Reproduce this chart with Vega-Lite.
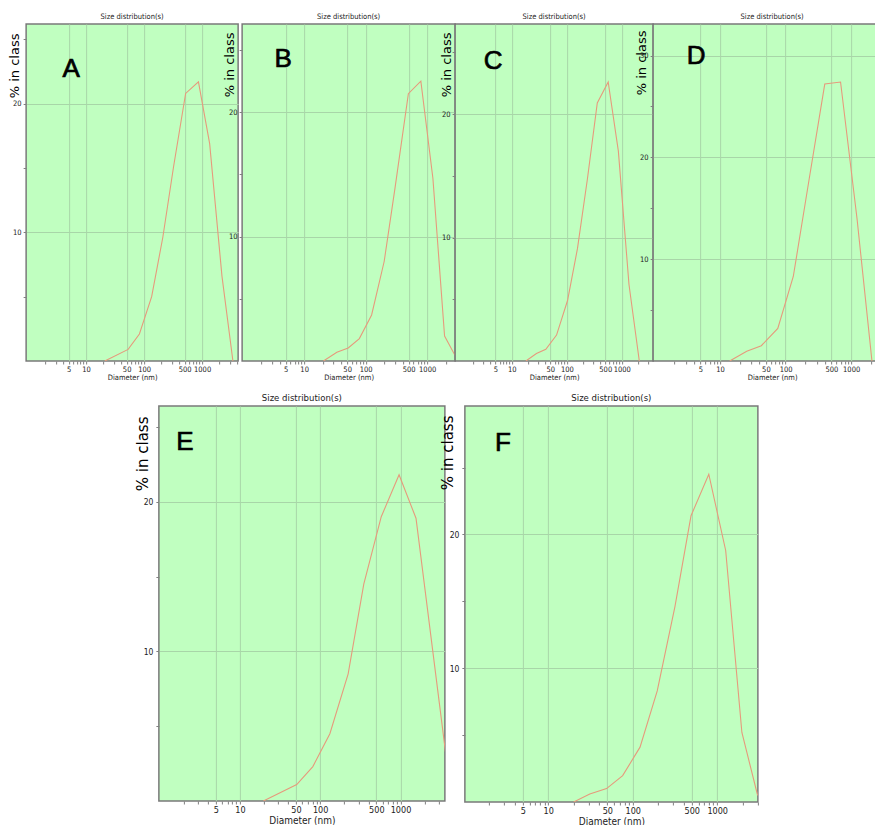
{
  "$schema": "https://vega.github.io/schema/vega-lite/v6.json",
  "autosize": {"type": "none"},
  "padding": {"left": 26, "top": 24, "right": 849, "bottom": 801},
  "background": "white",
  "datasets": {
    "dls": [
      {"panel": "A", "d": 21, "p": 0}, {"panel": "A", "d": 53, "p": 0.9}, {"panel": "A", "d": 83, "p": 2.1}, {"panel": "A", "d": 135, "p": 5.0}, {"panel": "A", "d": 210, "p": 9.6}, {"panel": "A", "d": 322, "p": 15.1}, {"panel": "A", "d": 520, "p": 20.8}, {"panel": "A", "d": 865, "p": 21.7}, {"panel": "A", "d": 1350, "p": 16.9}, {"panel": "A", "d": 2200, "p": 6.6}, {"panel": "A", "d": 3400, "p": 0},
      {"panel": "B", "d": 20.6, "p": 0}, {"panel": "B", "d": 34, "p": 0.7}, {"panel": "B", "d": 52, "p": 1.05}, {"panel": "B", "d": 79, "p": 1.8}, {"panel": "B", "d": 125, "p": 3.7}, {"panel": "B", "d": 200, "p": 8.0}, {"panel": "B", "d": 300, "p": 13.9}, {"panel": "B", "d": 495, "p": 21.5}, {"panel": "B", "d": 790, "p": 22.5}, {"panel": "B", "d": 1240, "p": 14.7}, {"panel": "B", "d": 1920, "p": 2.0}, {"panel": "B", "d": 2800, "p": 0.5}, {"panel": "B", "d": 3600, "p": 0},
      {"panel": "C", "d": 18, "p": 0}, {"panel": "C", "d": 28, "p": 0.6}, {"panel": "C", "d": 41.5, "p": 0.95}, {"panel": "C", "d": 65, "p": 2.1}, {"panel": "C", "d": 103, "p": 4.9}, {"panel": "C", "d": 156, "p": 9.1}, {"panel": "C", "d": 236, "p": 14.7}, {"panel": "C", "d": 358, "p": 20.9}, {"panel": "C", "d": 565, "p": 22.6}, {"panel": "C", "d": 865, "p": 17.0}, {"panel": "C", "d": 1350, "p": 6.2}, {"panel": "C", "d": 2080, "p": 0},
      {"panel": "D", "d": 14, "p": 0}, {"panel": "D", "d": 25.5, "p": 0.95}, {"panel": "D", "d": 42.6, "p": 1.5}, {"panel": "D", "d": 76, "p": 3.2}, {"panel": "D", "d": 131, "p": 8.3}, {"panel": "D", "d": 228, "p": 17.8}, {"panel": "D", "d": 396, "p": 27.2}, {"panel": "D", "d": 690, "p": 27.4}, {"panel": "D", "d": 1230, "p": 14.0}, {"panel": "D", "d": 2080, "p": 0},
      {"panel": "E", "d": 19.6, "p": 0}, {"panel": "E", "d": 51, "p": 1.1}, {"panel": "E", "d": 81, "p": 2.3}, {"panel": "E", "d": 132, "p": 4.5}, {"panel": "E", "d": 223, "p": 8.5}, {"panel": "E", "d": 349, "p": 14.5}, {"panel": "E", "d": 576, "p": 19.0}, {"panel": "E", "d": 960, "p": 21.8}, {"panel": "E", "d": 1560, "p": 18.9}, {"panel": "E", "d": 4340, "p": 0},
      {"panel": "F", "d": 20, "p": 0}, {"panel": "F", "d": 31, "p": 0.6}, {"panel": "F", "d": 49, "p": 1.0}, {"panel": "F", "d": 76, "p": 1.97}, {"panel": "F", "d": 122, "p": 4.1}, {"panel": "F", "d": 195, "p": 8.3}, {"panel": "F", "d": 316, "p": 14.6}, {"panel": "F", "d": 490, "p": 21.4}, {"panel": "F", "d": 795, "p": 24.5}, {"panel": "F", "d": 1260, "p": 18.8}, {"panel": "F", "d": 1960, "p": 5.2}, {"panel": "F", "d": 2980, "p": 0.6}, {"panel": "F", "d": 3400, "p": 0}
    ],
    "letters": [
      {"panel": "A", "d": 5.5, "p": 22.7},
      {"panel": "B", "d": 4.55, "p": 24.3},
      {"panel": "C", "d": 4.57, "p": 24.3},
      {"panel": "D", "d": 4.3, "p": 30.0},
      {"panel": "E", "d": 2.07, "p": 24.0},
      {"panel": "F", "d": 2.91, "p": 26.8}
    ]
  },
  "config": {
    "view": {"fill": "#c0ffc0", "stroke": "#7a7a7a", "strokeWidth": 1.5},
    "axis": {"domain": false, "gridColor": "#a8d6a8", "gridWidth": 1, "tickColor": "#808080", "tickSize": 3, "labelFont": "Liberation Sans Narrow, DejaVu Sans Condensed, Liberation Sans", "titleFont": "Liberation Sans Narrow, DejaVu Sans Condensed, Liberation Sans", "labelColor": "#222222", "titleColor": "#222222", "titleFontWeight": "normal", "labelPadding": 1, "titlePadding": 1, "labelOverlap": false, "labelFlush": false},
    "axisY": {"titleFont": "DejaVu Sans", "titleColor": "black", "titleFontSize": 13, "titleAngle": 270, "titleAlign": "right", "titleBaseline": "alphabetic", "labelPadding": 2},
    "title": {"font": "Liberation Sans Narrow, DejaVu Sans Condensed, Liberation Sans", "fontSize": 7.5, "fontWeight": "normal", "color": "#222222", "offset": 4},
    "line": {"color": "#e69a7c", "strokeWidth": 1.1},
    "text": {"font": "Liberation Sans", "fontSize": 26, "color": "black", "fontWeight": "normal", "stroke": "black", "strokeWidth": 0.7}
  },
  "vconcat": [
    {
      "hconcat": [
        {
          "width": 212, "height": 337,
          "title": "Size distribution(s)",
          "layer": [
            {"data": {"name": "dls"}, "transform": [{"filter": "datum.panel === 'A'"}],
             "mark": {"type": "line", "clip": true},
             "encoding": {
               "x": {"field": "d", "type": "quantitative", "scale": {"type": "log", "domain": [0.924, 4180], "nice": false},
                     "axis": {"title": "Diameter (nm)", "format": "d", "labelFontSize": 7.5, "titleFontSize": 7.5,
                              "values": [2,3,4,5,6,7,8,9,10,20,30,40,50,60,70,80,90,100,200,300,400,500,600,700,800,900,1000,2000,3000,4000],
                              "labelExpr": "indexof([5,10,50,100,500,1000], datum.value) >= 0 ? datum.label : ''",
                              "gridOpacity": {"condition": {"test": "indexof([5,10,50,100,500,1000], datum.value) >= 0", "value": 1}, "value": 0}}},
               "y": {"field": "p", "type": "quantitative", "scale": {"domain": [0, 26.2], "nice": false},
                     "axis": {"title": "% in class", "values": [5,10,15,20,25], "labelFontSize": 7.5, "titleX": -8, "titleY": 9,
                              "labelExpr": "datum.value % 10 === 0 ? datum.label : ''",
                              "gridOpacity": {"condition": {"test": "datum.value % 10 === 0", "value": 1}, "value": 0}}}
             }},
            {"data": {"name": "letters"}, "transform": [{"filter": "datum.panel === 'A'"}],
             "mark": {"type": "text", "baseline": "middle", "align": "center"},
             "encoding": {"x": {"field": "d", "type": "quantitative"}, "y": {"field": "p", "type": "quantitative"}, "text": {"field": "panel"}}}
          ]
        },
        {
          "hconcat": [
            {
              "width": 213, "height": 337,
              "title": "Size distribution(s)",
              "layer": [
                {"data": {"name": "dls"}, "transform": [{"filter": "datum.panel === 'B'"}],
                 "mark": {"type": "line", "clip": true},
                 "encoding": {
                   "x": {"field": "d", "type": "quantitative", "scale": {"type": "log", "domain": [0.98, 2850], "nice": false},
                         "axis": {"title": "Diameter (nm)", "format": "d", "labelFontSize": 7.5, "titleFontSize": 7.5,
                                  "values": [2,3,4,5,6,7,8,9,10,20,30,40,50,60,70,80,90,100,200,300,400,500,600,700,800,900,1000,2000],
                                  "labelExpr": "indexof([5,10,50,100,500,1000], datum.value) >= 0 ? datum.label : ''",
                                  "gridOpacity": {"condition": {"test": "indexof([5,10,50,100,500,1000], datum.value) >= 0", "value": 1}, "value": 0}}},
                   "y": {"field": "p", "type": "quantitative", "scale": {"domain": [0, 27.1], "nice": false},
                         "axis": {"title": "% in class", "values": [5,10,15,20,25], "labelFontSize": 7.5, "titleX": -9, "titleY": 8,
                                  "labelExpr": "datum.value % 10 === 0 ? datum.label : ''",
                                  "gridOpacity": {"condition": {"test": "datum.value % 10 === 0", "value": 1}, "value": 0}}}
                 }},
                {"data": {"name": "letters"}, "transform": [{"filter": "datum.panel === 'B'"}],
                 "mark": {"type": "text", "baseline": "middle", "align": "center"},
                 "encoding": {"x": {"field": "d", "type": "quantitative"}, "y": {"field": "p", "type": "quantitative"}, "text": {"field": "panel"}}}
              ]
            },
            {
              "width": 198, "height": 337,
              "title": "Size distribution(s)",
              "layer": [
                {"data": {"name": "dls"}, "transform": [{"filter": "datum.panel === 'C'"}],
                 "mark": {"type": "line", "clip": true},
                 "encoding": {
                   "x": {"field": "d", "type": "quantitative", "scale": {"type": "log", "domain": [0.93, 3710], "nice": false},
                         "axis": {"title": "Diameter (nm)", "format": "d", "labelFontSize": 7.5, "titleFontSize": 7.5,
                                  "values": [2,3,4,5,6,7,8,9,10,20,30,40,50,60,70,80,90,100,200,300,400,500,600,700,800,900,1000,2000,3000],
                                  "labelExpr": "indexof([5,10,50,100,500,1000], datum.value) >= 0 ? datum.label : ''",
                                  "gridOpacity": {"condition": {"test": "indexof([5,10,50,100,500,1000], datum.value) >= 0", "value": 1}, "value": 0}}},
                   "y": {"field": "p", "type": "quantitative", "scale": {"domain": [0, 27.3], "nice": false},
                         "axis": {"title": "% in class", "values": [5,10,15,20,25], "labelFontSize": 7.5, "titleX": -5, "titleY": 8,
                                  "labelExpr": "datum.value % 10 === 0 ? datum.label : ''",
                                  "gridOpacity": {"condition": {"test": "datum.value % 10 === 0", "value": 1}, "value": 0}}}
                 }},
                {"data": {"name": "letters"}, "transform": [{"filter": "datum.panel === 'C'"}],
                 "mark": {"type": "text", "baseline": "middle", "align": "center"},
                 "encoding": {"x": {"field": "d", "type": "quantitative"}, "y": {"field": "p", "type": "quantitative"}, "text": {"field": "panel"}}}
              ]
            },
            {
              "width": 238, "height": 337,
              "title": "Size distribution(s)",
              "layer": [
                {"data": {"name": "dls"}, "transform": [{"filter": "datum.panel === 'D'"}],
                 "mark": {"type": "line", "clip": true},
                 "encoding": {
                   "x": {"field": "d", "type": "quantitative", "scale": {"type": "log", "domain": [0.95, 4080], "nice": false},
                         "axis": {"title": "Diameter (nm)", "format": "d", "labelFontSize": 7.5, "titleFontSize": 7.5,
                                  "values": [2,3,4,5,6,7,8,9,10,20,30,40,50,60,70,80,90,100,200,300,400,500,600,700,800,900,1000,2000,3000,4000],
                                  "labelExpr": "indexof([5,10,50,100,500,1000], datum.value) >= 0 ? datum.label : ''",
                                  "gridOpacity": {"condition": {"test": "indexof([5,10,50,100,500,1000], datum.value) >= 0", "value": 1}, "value": 0}}},
                   "y": {"field": "p", "type": "quantitative", "scale": {"domain": [0, 33.1], "nice": false},
                         "axis": {"title": "% in class", "values": [5,10,15,20,25,30], "labelFontSize": 7.5, "titleX": -8, "titleY": 6,
                                  "labelExpr": "datum.value % 10 === 0 ? datum.label : ''",
                                  "gridOpacity": {"condition": {"test": "datum.value % 10 === 0", "value": 1}, "value": 0}}}
                 }},
                {"data": {"name": "letters"}, "transform": [{"filter": "datum.panel === 'D'"}],
                 "mark": {"type": "text", "baseline": "middle", "align": "center"},
                 "encoding": {"x": {"field": "d", "type": "quantitative"}, "y": {"field": "p", "type": "quantitative"}, "text": {"field": "panel"}}}
              ]
            }
          ],
          "spacing": 0,
          "bounds": "flush"
        }
      ],
      "spacing": 4,
      "bounds": "flush"
    },
    {
      "hconcat": [
        {
          "width": 286, "height": 395,
          "title": {"text": "Size distribution(s)", "fontSize": 9.5},
          "layer": [
            {"data": {"name": "dls"}, "transform": [{"filter": "datum.panel === 'E'"}],
             "mark": {"type": "line", "clip": true},
             "encoding": {
               "x": {"field": "d", "type": "quantitative", "scale": {"type": "log", "domain": [0.98, 3570], "nice": false},
                     "axis": {"title": "Diameter (nm)", "format": "d", "labelFontSize": 9, "titleFontSize": 10,
                              "values": [2,3,4,5,6,7,8,9,10,20,30,40,50,60,70,80,90,100,200,300,400,500,600,700,800,900,1000,2000,3000],
                              "labelExpr": "indexof([5,10,50,100,500,1000], datum.value) >= 0 ? datum.label : ''",
                              "gridOpacity": {"condition": {"test": "indexof([5,10,50,100,500,1000], datum.value) >= 0", "value": 1}, "value": 0}}},
               "y": {"field": "p", "type": "quantitative", "scale": {"domain": [0, 26.4], "nice": false},
                     "axis": {"title": "% in class", "values": [5,10,15,20,25], "labelFontSize": 8.5, "titleFontSize": 15, "titleX": -11, "titleY": 10, "labelPadding": 3,
                              "labelExpr": "datum.value % 10 === 0 ? datum.label : ''",
                              "gridOpacity": {"condition": {"test": "datum.value % 10 === 0", "value": 1}, "value": 0}}}
             }},
            {"data": {"name": "letters"}, "transform": [{"filter": "datum.panel === 'E'"}],
             "mark": {"type": "text", "baseline": "middle", "align": "center"},
             "encoding": {"x": {"field": "d", "type": "quantitative"}, "y": {"field": "p", "type": "quantitative"}, "text": {"field": "panel"}}}
          ]
        },
        {
          "width": 293, "height": 396,
          "title": {"text": "Size distribution(s)", "fontSize": 9.5},
          "layer": [
            {"data": {"name": "dls"}, "transform": [{"filter": "datum.panel === 'F'"}],
             "mark": {"type": "line", "clip": true},
             "encoding": {
               "x": {"field": "d", "type": "quantitative", "scale": {"type": "log", "domain": [1.03, 3030], "nice": false},
                     "axis": {"title": "Diameter (nm)", "format": "d", "labelFontSize": 9, "titleFontSize": 10,
                              "values": [2,3,4,5,6,7,8,9,10,20,30,40,50,60,70,80,90,100,200,300,400,500,600,700,800,900,1000,2000,3000],
                              "labelExpr": "indexof([5,10,50,100,500,1000], datum.value) >= 0 ? datum.label : ''",
                              "gridOpacity": {"condition": {"test": "indexof([5,10,50,100,500,1000], datum.value) >= 0", "value": 1}, "value": 0}}},
               "y": {"field": "p", "type": "quantitative", "scale": {"domain": [0, 29.6], "nice": false},
                     "axis": {"title": "% in class", "values": [5,10,15,20,25], "labelFontSize": 8.5, "titleFontSize": 15, "titleX": -12, "titleY": 9, "labelPadding": 3,
                              "labelExpr": "datum.value % 10 === 0 ? datum.label : ''",
                              "gridOpacity": {"condition": {"test": "datum.value % 10 === 0", "value": 1}, "value": 0}}}
             }},
            {"data": {"name": "letters"}, "transform": [{"filter": "datum.panel === 'F'"}],
             "mark": {"type": "text", "baseline": "middle", "align": "center"},
             "encoding": {"x": {"field": "d", "type": "quantitative"}, "y": {"field": "p", "type": "quantitative"}, "text": {"field": "panel"}}}
          ]
        }
      ],
      "spacing": 20,
      "bounds": "flush"
    }
  ],
  "spacing": 9,
  "bounds": "full",
  "center": true
}
